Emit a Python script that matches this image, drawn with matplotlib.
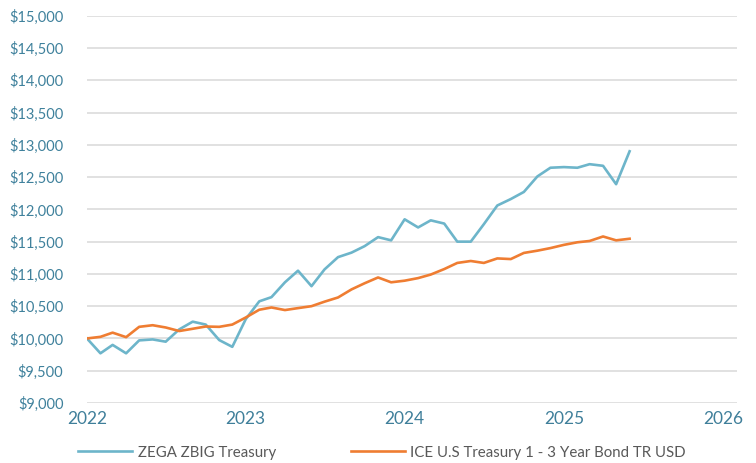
import datetime
import matplotlib
matplotlib.use('Agg')
import matplotlib.pyplot as plt
import matplotlib.dates as mdates
from matplotlib.ticker import FuncFormatter, MultipleLocator
import pandas as pd

# Data (monthly growth of $10,000)
months = pd.date_range('2022-01-01', periods=42, freq='MS')

zega = [10000, 9770, 9900, 9770, 9970, 9985, 9950, 10140, 10260, 10215,
        9975, 9870, 10300, 10575, 10640, 10870, 11050, 10810, 11070, 11260,
        11330, 11430, 11570, 11520, 11846, 11720, 11830, 11780, 11500, 11500,
        11770, 12060, 12160, 12270, 12510, 12645, 12655, 12645, 12700, 12675,
        12390, 12900]

ice = [10000, 10025, 10090, 10020, 10180, 10205, 10170, 10115, 10150, 10185,
       10180, 10215, 10325, 10445, 10480, 10440, 10470, 10500, 10570, 10635,
       10760, 10855, 10945, 10870, 10895, 10935, 10990, 11075, 11170, 11200,
       11170, 11240, 11230, 11325, 11360, 11400, 11450, 11490, 11510, 11580,
       11520, 11545]

series_names = ['ZEGA ZBIG Treasury', 'ICE U.S Treasury 1 - 3 Year Bond TR USD']
year_ticks = [2022, 2023, 2024, 2025, 2026]

plt.rcParams['font.family'] = ['Lato', 'DejaVu Sans']

fig = plt.figure(figsize=(7.56, 4.63), dpi=100, facecolor='white')
ax = fig.add_axes([0.115, 0.1296, 0.86, 0.8364])

ax.plot(months, zega, color='#6db5ca', linewidth=1.9, label=series_names[0])
ax.plot(months, ice, color='#ef7d32', linewidth=1.9, label=series_names[1])

ax.set_ylim(9000, 15000)
ax.yaxis.set_major_locator(MultipleLocator(500))
ax.yaxis.set_major_formatter(FuncFormatter(lambda v, p: '${:,.0f}'.format(v)))

ax.set_xlim(datetime.date(2022, 1, 1), datetime.date(2026, 2, 3))
ax.set_xticks([datetime.date(y, 1, 1) for y in year_ticks])
ax.xaxis.set_major_formatter(mdates.DateFormatter('%Y'))

ax.grid(axis='y', color='#d9d9d9', linewidth=1.1)
ax.set_axisbelow(True)
for s in ax.spines.values():
    s.set_visible(False)
ax.tick_params(axis='both', length=0)
ax.tick_params(axis='y', labelsize=10.5, labelcolor='#3f819c', pad=17)
ax.tick_params(axis='x', labelsize=12.5, labelcolor='#3f7f9a', pad=6)

leg = ax.legend(loc='upper left', bbox_to_anchor=(-0.034, -0.075), ncol=2,
                frameon=False, fontsize=10.8, handlelength=3.6,
                columnspacing=5.0, handletextpad=0.35)
for t in leg.get_texts():
    t.set_color('#595959')

plt.savefig('out.png', dpi=100, facecolor='white')
